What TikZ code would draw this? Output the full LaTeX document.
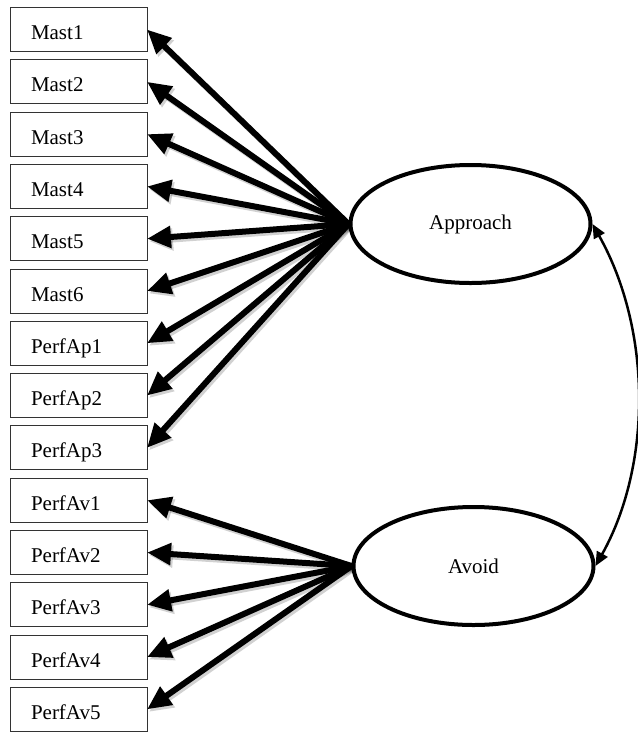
\documentclass[tikz,border=0pt]{standalone}
\usepackage{fontspec}
\setmainfont{Liberation Serif}
\usetikzlibrary{arrows.meta,shapes.geometric}
\tikzset{
  ind/.style={draw=black!80, line width=1pt, rectangle, minimum height=44pt,
    text width=95pt, inner xsep=21pt, align=left, outer sep=0pt,
    text height=20pt, text depth=0pt,
    font=\fontsize{21}{24}\selectfont},
  lat/.style={draw=black, line width=4pt, ellipse, minimum width=240pt,
    minimum height=118pt, outer sep=2pt, font=\fontsize{21}{24}\selectfont},
  load/.style={line width=6pt, -{Triangle[length=24pt,width=21pt]},
    preaction={draw=black, opacity=0.18, line width=6pt,
      transform canvas={shift={(2pt,-2.5pt)}}}},
  cov/.style={line width=2.5pt, {Triangle[length=14pt,width=12pt]}-{Triangle[length=14pt,width=12pt]}}
}
\begin{document}
\begin{tikzpicture}[x=1pt,y=-1pt]
\useasboundingbox (0,0) rectangle (638,732);
\foreach \n/\t [count=\i from 0] in {m1/Mast1,m2/Mast2,m3/Mast3,m4/Mast4,m5/Mast5,m6/Mast6,pap1/PerfAp1,pap2/PerfAp2,pap3/PerfAp3,pav1/PerfAv1,pav2/PerfAv2,pav3/PerfAv3,pav4/PerfAv4,pav5/PerfAv5}
  \node[ind] (\n) at (78.5,{29.5+52.3*\i}) {\t};
\node[lat] (app) at (470.5,224) {Approach};
\node[lat] (avo) at (473.5,566) {Avoid};
\foreach \n in {m1,m2,m3,m4,m5,m6,pap1,pap2,pap3}
  \draw[load] (app.west) -- (\n.east);
\foreach \n in {pav1,pav2,pav3,pav4,pav5}
  \draw[load] (avo.west) -- (\n.east);
\draw[cov] (app.east) .. controls (652,330) and (652,465) .. (avo.east);
\end{tikzpicture}
\end{document}
